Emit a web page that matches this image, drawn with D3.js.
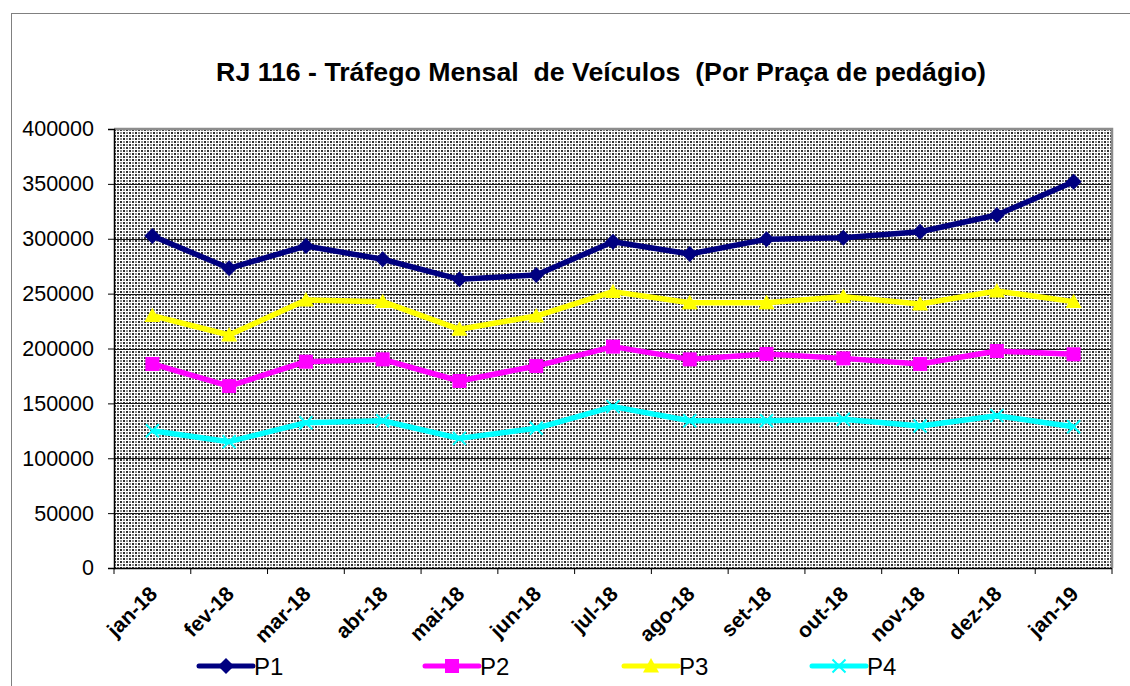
<!DOCTYPE html>
<html>
<head>
<meta charset="utf-8">
<script src="https://cdn.jsdelivr.net/npm/d3@7"></script>
<style>
  html, body { margin: 0; padding: 0; background: #fff; }
  svg { display: block; font-family: Arial, "Liberation Sans", sans-serif; }
</style>
</head>
<body>
<svg id="chart" width="1130" height="686"></svg>
<script>
// Monthly vehicle traffic per toll plaza, RJ 116
const months = ["jan-18", "fev-18", "mar-18", "abr-18", "mai-18", "jun-18", "jul-18",
                "ago-18", "set-18", "out-18", "nov-18", "dez-18", "jan-19"];
const p1 = [302500, 273100, 293400, 281300, 263000, 267000, 297300, 286100, 299500, 301000, 306400, 321600, 352000];
const p2 = [185900, 165800, 188000, 190100, 170400, 184000, 201700, 190100, 195000, 191000, 185900, 197700, 194700];
const p3 = [229900, 212300, 244200, 242700, 217500, 229600, 251800, 241700, 241700, 247200, 240500, 252400, 242700];
const p4 = [125100, 115100, 132400, 134200, 118100, 127300, 147000, 134200, 134200, 135500, 129400, 138800, 128700];
const yTicks = [0, 50000, 100000, 150000, 200000, 250000, 300000, 350000, 400000];
const seriesNames = ["P1", "P2", "P3", "P4"];

const series = [
  { name: seriesNames[0], values: p1, color: "#000080", marker: "diamond" },
  { name: seriesNames[1], values: p2, color: "#FF00FF", marker: "square" },
  { name: seriesNames[2], values: p3, color: "#FFFF00", marker: "triangle" },
  { name: seriesNames[3], values: p4, color: "#00FFFF", marker: "cross" }
];

const svg = d3.select("#chart");
const plot = { left: 114, right: 1112, top: 129, bottom: 568 };

// Checkered fill for the plot area: alternating dark and grey blocks with white gaps
const defs = svg.append("defs");
const pat = defs.append("pattern")
  .attr("id", "hatch").attr("patternUnits", "userSpaceOnUse")
  .attr("width", 6).attr("height", 6)
  .attr("x", plot.left).attr("y", plot.top);
pat.append("rect").attr("width", 6).attr("height", 6).attr("fill", "#ffffff");
[[0, 0, "#2e2e2e"], [3, 3, "#2e2e2e"], [3, 0, "#8c8c8c"], [0, 3, "#8c8c8c"]].forEach(([px, py, c]) => {
  pat.append("rect").attr("x", px).attr("y", py).attr("width", 2).attr("height", 2).attr("fill", c);
});

// Outer chart frame
svg.append("rect")
  .attr("x", 11.5).attr("y", 13.5).attr("width", 1140).attr("height", 700)
  .attr("fill", "none").attr("stroke", "#808080").attr("stroke-width", 1);

const x = d3.scaleBand().domain(months).range([plot.left, plot.right]);
const y = d3.scaleLinear().domain([0, 400000]).range([plot.bottom, plot.top]);

svg.append("rect")
  .attr("x", plot.left).attr("y", plot.top)
  .attr("width", plot.right - plot.left).attr("height", plot.bottom - plot.top)
  .attr("fill", "url(#hatch)");

// Horizontal gridlines
svg.append("g").selectAll("line").data(yTicks.filter(d => d > 0 && d < 400000)).join("line")
  .attr("x1", plot.left).attr("x2", plot.right)
  .attr("y1", d => Math.round(y(d)) + 0.5).attr("y2", d => Math.round(y(d)) + 0.5)
  .attr("stroke", "#1a1a1a").attr("stroke-width", 1.2);

// Plot border (top and right)
svg.append("path")
  .attr("d", `M${plot.left},${plot.top} H${plot.right} V${plot.bottom}`)
  .attr("fill", "none").attr("stroke", "#8c8c8c").attr("stroke-width", 2.5);

// Y axis
const yAxis = svg.append("g")
  .attr("transform", `translate(${plot.left},0)`)
  .call(d3.axisLeft(y).tickValues(yTicks).tickSize(6).tickPadding(14).tickFormat(d3.format("d")));
yAxis.select(".domain").attr("stroke", "#000").attr("stroke-width", 1.5);
yAxis.selectAll(".tick line").attr("stroke", "#000");
yAxis.selectAll(".tick text").attr("font-size", 21.5).attr("fill", "#000")
  .attr("font-family", "Arial, 'Liberation Sans', sans-serif");

// X axis: ticks at category boundaries
const boundaries = months.map(m => x(m)).concat([plot.right]);
const xg = svg.append("g");
xg.append("line")
  .attr("x1", plot.left).attr("x2", plot.right)
  .attr("y1", plot.bottom + 0.5).attr("y2", plot.bottom + 0.5)
  .attr("stroke", "#000").attr("stroke-width", 1.5);
xg.selectAll("line.tk").data(boundaries).join("line").attr("class", "tk")
  .attr("x1", d => d).attr("x2", d => d)
  .attr("y1", plot.bottom).attr("y2", plot.bottom + 6)
  .attr("stroke", "#000");
xg.selectAll("text").data(months).join("text")
  .attr("transform", d => `translate(${x(d) + x.bandwidth() / 2 + 1},${plot.bottom + 22}) rotate(-45)`)
  .attr("text-anchor", "end")
  .attr("dy", "0.35em")
  .attr("font-size", 21).attr("font-weight", "bold").attr("fill", "#000")
  .text(d => d);

// Marker shapes
function drawMarker(g, kind, color, size) {
  const s = size / 2;
  if (kind === "diamond") {
    g.append("path").attr("d", `M0,${-s} L${s},0 L0,${s} L${-s},0 Z`).attr("fill", color);
  } else if (kind === "square") {
    g.append("rect").attr("x", -s).attr("y", -s).attr("width", size).attr("height", size).attr("fill", color);
  } else if (kind === "triangle") {
    g.append("path").attr("d", `M0,${-s} L${s},${s * 0.8} L${-s},${s * 0.8} Z`).attr("fill", color);
  } else {
    g.append("path").attr("d", `M${-s},${-s} L${s},${s} M${s},${-s} L${-s},${s}`)
      .attr("stroke", color).attr("stroke-width", 2);
  }
}
const markerSize = { diamond: 16, square: 14, triangle: 16, cross: 13 };

const line = d3.line().x((d, i) => x(months[i]) + x.bandwidth() / 2).y(d => y(d));
series.forEach(s => {
  svg.append("path").datum(s.values)
    .attr("d", line).attr("fill", "none")
    .attr("stroke", s.color).attr("stroke-width", 5.5).attr("stroke-linejoin", "round");
  svg.append("g").selectAll("g").data(s.values).join("g")
    .attr("transform", (d, i) => `translate(${x(months[i]) + x.bandwidth() / 2},${y(d)})`)
    .each(function () { drawMarker(d3.select(this), s.marker, s.color, markerSize[s.marker]); });
});

// Title
svg.append("text")
  .attr("x", 601).attr("y", 81)
  .attr("text-anchor", "middle")
  .attr("font-size", 26.7).attr("font-weight", "bold").attr("fill", "#000")
  .attr("xml:space", "preserve")
  .text("RJ 116 - Tráfego Mensal  de Veículos  (Por Praça de pedágio)");

// Legend
const legendX = [199, 425, 624, 812];
const legendY = 666;
series.forEach((s, i) => {
  const g = svg.append("g").attr("transform", `translate(${legendX[i]},${legendY})`);
  g.append("line").attr("x1", 0).attr("x2", 54).attr("y1", 0).attr("y2", 0)
    .attr("stroke", s.color).attr("stroke-width", 5).attr("stroke-linecap", "round");
  const m = g.append("g").attr("transform", "translate(27,0)");
  drawMarker(m, s.marker, s.color, markerSize[s.marker]);
  g.append("text").attr("x", 55).attr("y", 0).attr("dy", "0.36em")
    .attr("font-size", 24).attr("fill", "#000").text(s.name);
});
</script>
</body>
</html>
